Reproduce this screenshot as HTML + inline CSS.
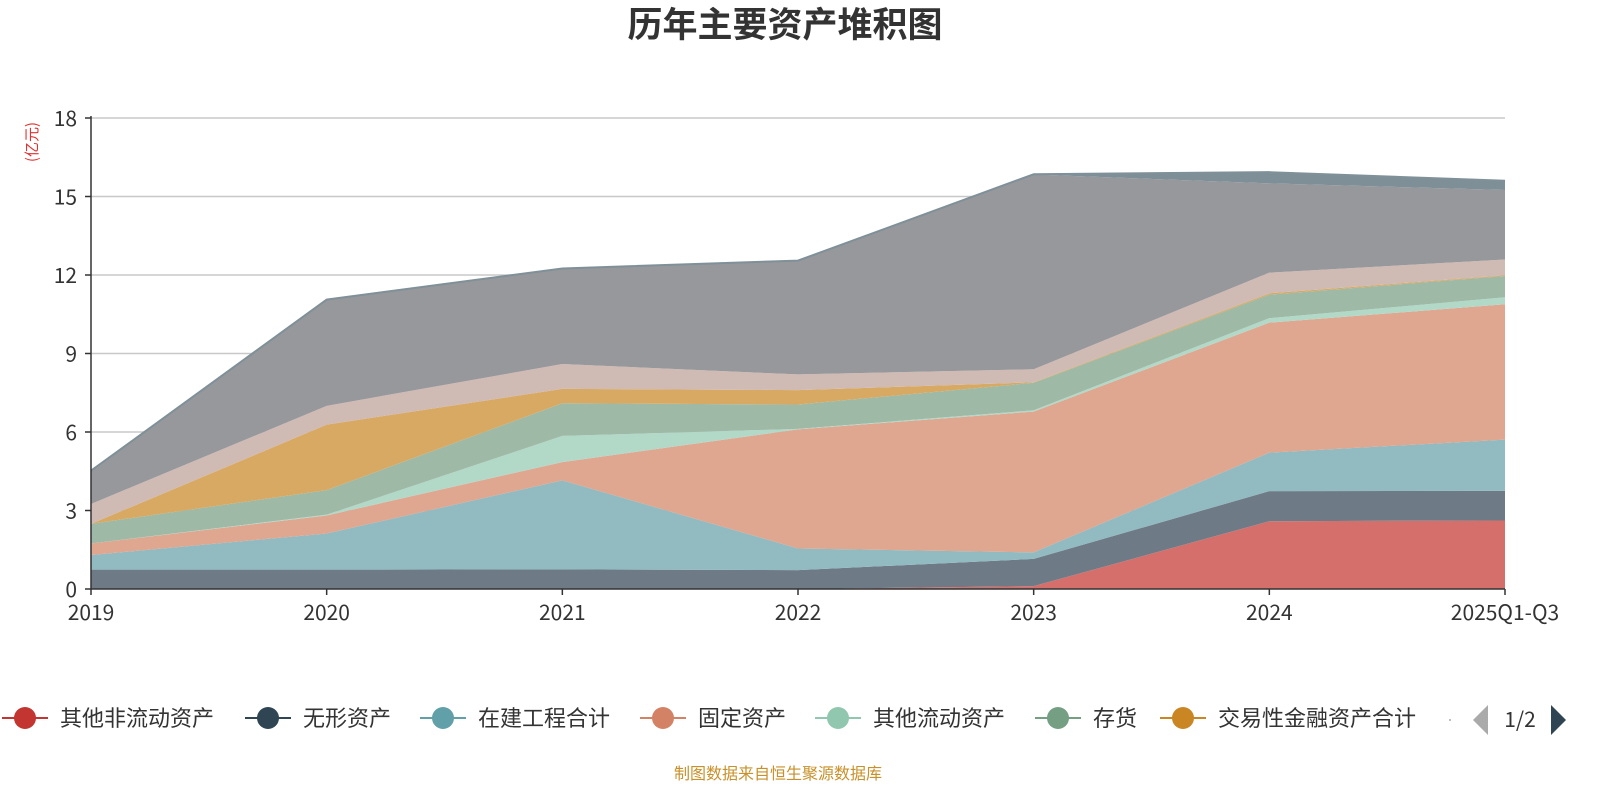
<!DOCTYPE html>
<html><head><meta charset="utf-8">
<style>
body{margin:0;background:#fff;font-family:"Noto Sans CJK SC","Liberation Sans",sans-serif;}
svg text{font-family:"Noto Sans CJK SC","Liberation Sans",sans-serif;}
</style></head>
<body>
<svg id="chart" width="1600" height="800">
<text x="785" y="37" text-anchor="middle" font-size="35" font-weight="bold" fill="#333">历年主要资产堆积图</text>
<text transform="translate(37,142) rotate(-90)" text-anchor="middle" font-size="15" fill="#e03030">(亿元)</text>
<g id="grid"></g>
<g id="areas"></g>
<g id="axes"></g>
<g id="legend"></g>
<text x="778" y="779" text-anchor="middle" font-size="16" fill="#c8902a">制图数据来自恒生聚源数据库</text>
</svg>
<script>
const categories=["2019","2020","2021","2022","2023","2024","2025Q1-Q3"];
const yTicks=[0,3,6,9,12,15,18];
const seriesNames=["其他非流动资产","无形资产","在建工程合计","固定资产","其他流动资产","存货","交易性金融资产合计","应收账款","货币资金","其他"];
const sRed=[0,0,0,0,0.11,2.59,2.62];
const sDark=[0.74,0.74,0.75,0.72,1.04,1.15,1.13];
const sTeal=[0.56,1.38,3.4,0.83,0.25,1.47,1.96];
const sFixed=[0.44,0.69,0.7,4.55,5.38,4.97,5.17];
const sOtherCur=[0,0.03,1.0,0.02,0.05,0.17,0.27];
const sInv=[0.75,0.94,1.25,0.93,1.05,0.9,0.81];
const sTrade=[0,2.5,0.55,0.55,0.02,0.05,0.03];
const sPink=[0.76,0.72,0.95,0.6,0.5,0.79,0.6];
const sGray=[1.27,4.06,3.65,4.35,7.44,3.41,2.66];
const sTop=[0,0,0,0,0.01,0.43,0.35];
const series=[sRed,sDark,sTeal,sFixed,sOtherCur,sInv,sTrade,sPink,sGray,sTop];
const fills=["#d46f6c","#6e7b86","#91bac1","#dfa690","#b2d8c8","#9eb9a5","#d8a962","#d0bab4","#97989c","#7f8f98"];
const legendColors=["#c23531","#2f4554","#61a0a8","#d48265","#91c7ae","#749f83","#ca8622"];
const NS="http://www.w3.org/2000/svg";
const x0=91,x1=1505,y0=589,y1=118,yMax=18;
const xs=i=>x0+(x1-x0)*i/(categories.length-1);
const ys=v=>y0-(y0-y1)*v/yMax;
function mk(t,a,p){const e=document.createElementNS(NS,t);for(const k in a)e.setAttribute(k,a[k]);p.appendChild(e);return e;}
const grid=document.getElementById('grid'),areas=document.getElementById('areas'),axes=document.getElementById('axes'),legend=document.getElementById('legend');
yTicks.forEach(v=>{
 if(v>0){const l=mk('line',{x1:x0,x2:x1,y1:ys(v),y2:ys(v),stroke:'#c8c8c8','stroke-width':1.5},grid);
 
 }
 const t=mk('text',{x:x0-14,y:ys(v)+8,'text-anchor':'end','font-size':21,fill:'#333'},axes);t.textContent=v;
 
 
 mk('line',{x1:x0-6,x2:x0,y1:ys(v),y2:ys(v),stroke:'#333','stroke-width':1.5},axes);
});
let cum=categories.map(()=>0);
series.forEach((s,k)=>{
 const lo=cum.slice();cum=cum.map((c,i)=>c+s[i]);
 let d='M'+categories.map((c,i)=>xs(i)+','+ys(cum[i])).join('L');
 for(let i=categories.length-1;i>=0;i--)d+='L'+xs(i)+','+ys(lo[i]);
 const p=mk('path',{d:d+'Z',fill:fills[k]},areas);
 
 
});
mk('polyline',{points:categories.map((c,i)=>xs(i)+','+ys(cum[i])).join(' '),fill:'none',stroke:'#7f9098','stroke-width':2},areas);
mk('line',{x1:x0,x2:x0,y1:y1-2,y2:y0,stroke:'#333','stroke-width':1.5},axes);
mk('line',{x1:x0,x2:x1,y1:y0,y2:y0,stroke:'#333','stroke-width':1.5},axes);
categories.forEach((c,i)=>{
 mk('line',{x1:xs(i),x2:xs(i),y1:y0,y2:y0+6,stroke:'#333','stroke-width':1.5},axes);
 const t=mk('text',{x:xs(i),y:620,'text-anchor':'middle','font-size':21,fill:'#333'},axes);t.textContent=c;
 
 
});
const lx=[25,268,443,663,838,1058,1183];
lx.forEach((cx,k)=>{
 const g=mk('g',{},legend);
 
 
 mk('line',{x1:cx-23,x2:cx+23,y1:718,y2:718,stroke:legendColors[k],'stroke-width':2},g);
 mk('circle',{cx:cx,cy:718,r:11,fill:legendColors[k]},g);
 const t=mk('text',{x:cx+35,y:726,'font-size':22,fill:'#333'},g);t.textContent=seriesNames[k];
});
mk('circle',{cx:1450,cy:720,r:1,fill:'#aaa'},legend);
const pl=mk('path',{d:'M1488,705L1473,720L1488,735Z',fill:'#aaa'},legend);


const pt=mk('text',{x:1520,y:727,'text-anchor':'middle','font-size':21,fill:'#333'},legend);pt.textContent='1/2';


const pr=mk('path',{d:'M1551,705L1566,720L1551,735Z',fill:'#2f4554'},legend);


</script>
</body></html>
